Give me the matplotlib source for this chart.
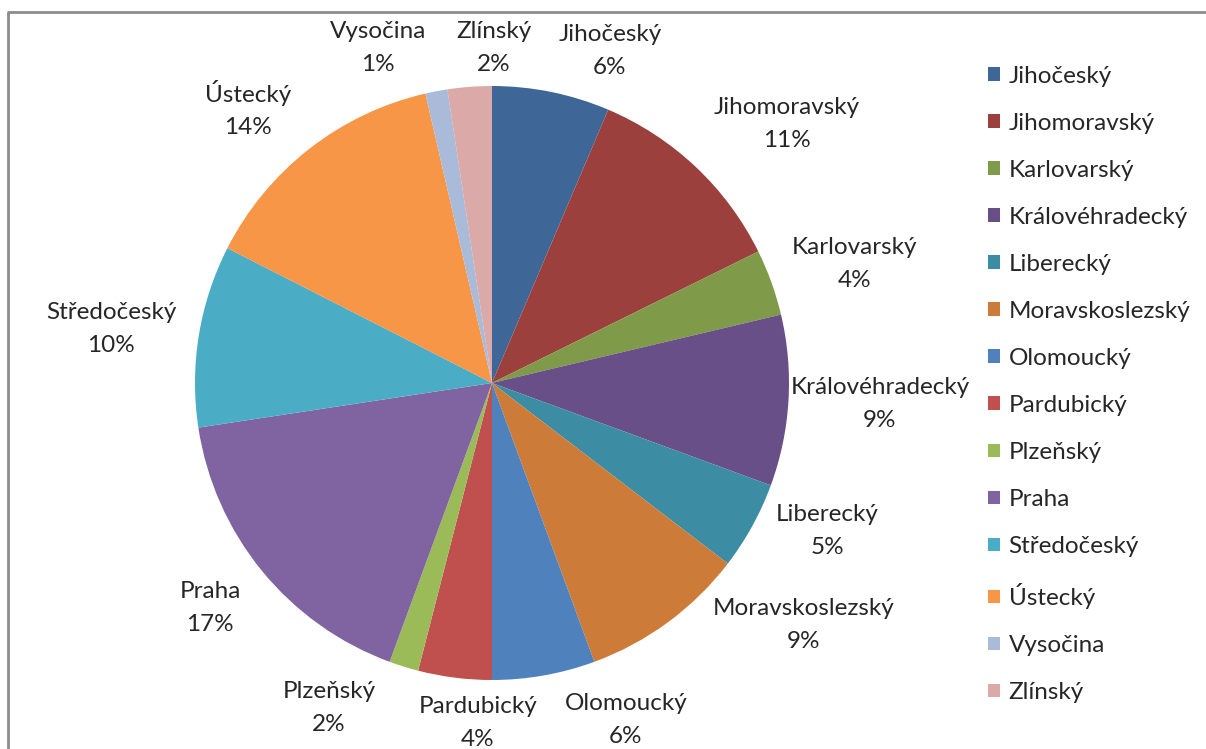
import matplotlib.pyplot as plt
from matplotlib.patches import Patch

# regions and their share (%)
regions = ["Jihočeský", "Jihomoravský", "Karlovarský", "Královéhradecký",
           "Liberecký", "Moravskoslezský", "Olomoucký", "Pardubický",
           "Plzeňský", "Praha", "Středočeský", "Ústecký", "Vysočina", "Zlínský"]
shares = [6.4, 11.3, 3.6, 9.3, 4.8, 9.0, 5.6, 4.0, 1.6, 17.0, 9.9, 13.9, 1.2, 2.4]
colors = ["#3E6797", "#9C403D", "#7F9A48", "#694F87", "#3C8DA3", "#CC7B38",
          "#4F81BD", "#C0504D", "#9BBB59", "#8064A2", "#4BACC6", "#F79646",
          "#A9BBD9", "#DAA9A8"]

# label centres in image pixels (y down), Excel "best fit" placement
label_pos = [(610, 51), (787, 124), (855, 264), (880, 404), (827, 531),
             (804, 625), (626, 720), (478, 723), (329, 708), (210, 608),
             (111, 329), (248, 109), (378, 48), (494, 48)]

W, H = 1206, 749
plt.rcParams['font.family'] = ['Lato', 'DejaVu Sans']

fig = plt.figure(figsize=(W / 100, H / 100), dpi=100)
ax = fig.add_axes([0, 0, 1, 1])

ax.pie(shares, colors=colors, startangle=90, counterclock=False,
       center=(492, H - 383), radius=297, frame=True,
       wedgeprops=dict(linewidth=0))
ax.set_xlim(0, W)
ax.set_ylim(0, H)
ax.set_aspect('equal')
ax.axis('off')

for name, val, (x, y) in zip(regions, shares, label_pos):
    ax.text(x, H - y, f"{name}\n{round(val):.0f}%", ha='center', va='center',
            fontsize=17.5, color='#262626', linespacing=1.7)

# chart frame (only top and left edges visible in the crop)
ax.plot([8, 8, W], [0, H - 12, H - 12], color='#8c8c8c', lw=2,
        solid_capstyle='butt', clip_on=False)

handles = [Patch(facecolor=c, edgecolor='none') for c in colors]
ax.legend(handles, regions, loc='upper left', bbox_to_anchor=(988, H - 66),
          bbox_transform=ax.transData, frameon=False, fontsize=17.5,
          handlelength=0.5, handleheight=0.5, handletextpad=0.35,
          labelspacing=1.07, labelcolor='#262626', borderaxespad=0,
          borderpad=0)

fig.savefig("out.png", dpi=100)
